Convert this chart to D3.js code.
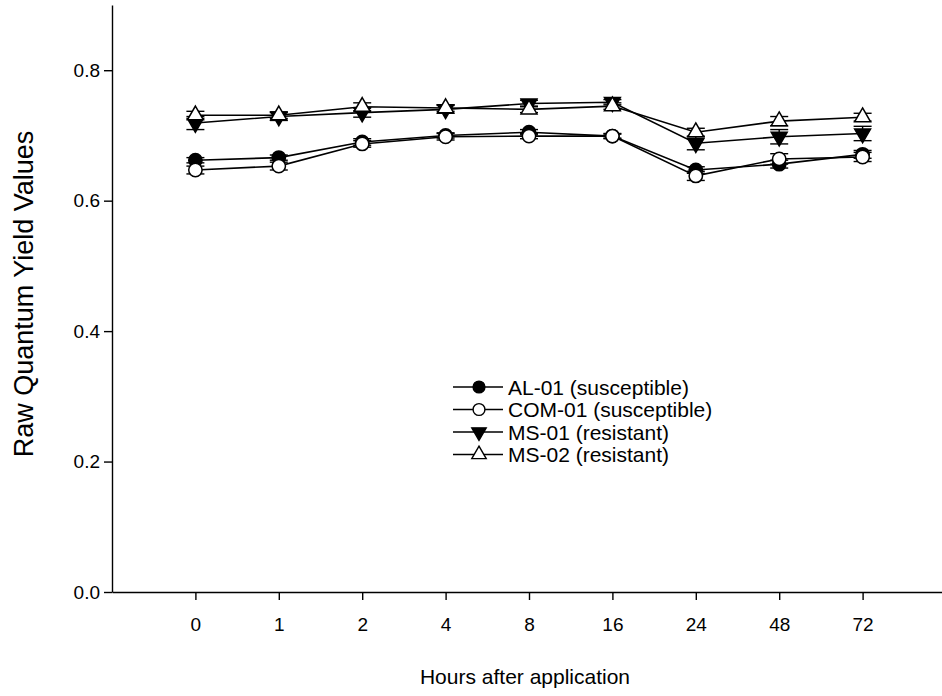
<!DOCTYPE html>
<html>
<head>
<meta charset="utf-8">
<style>
  body { margin: 0; background: #fff; }
  svg text { font-family: Arial, "Liberation Sans", sans-serif; fill: #000; }
</style>
</head>
<body>
<div id="target"></div>
<script src="https://cdn.jsdelivr.net/npm/d3@7.8.3/dist/d3.min.js"></script>
<script>
// hours after application, shown as evenly spaced categories
const hours = ["0", "1", "2", "4", "8", "16", "24", "48", "72"];
const yTicks = [0, 0.2, 0.4, 0.6, 0.8];

const al01 = [0.662, 0.666, 0.690, 0.700, 0.705, 0.699, 0.647, 0.656, 0.671];
const al01Err = [0.004, 0.004, 0.005, 0.004, 0.004, 0.003, 0.005, 0.006, 0.006];
const com01 = [0.647, 0.653, 0.687, 0.698, 0.699, 0.699, 0.638, 0.664, 0.667];
const com01Err = [0.006, 0.006, 0.005, 0.005, 0.004, 0.004, 0.007, 0.008, 0.007];
const ms01 = [0.719, 0.729, 0.735, 0.740, 0.749, 0.751, 0.688, 0.698, 0.703];
const ms01Err = [0.010, 0.006, 0.007, 0.006, 0.005, 0.004, 0.010, 0.011, 0.011];
const ms02 = [0.731, 0.731, 0.744, 0.742, 0.740, 0.745, 0.705, 0.722, 0.728];
const ms02Err = [0.006, 0.005, 0.006, 0.005, 0.005, 0.005, 0.006, 0.007, 0.006];

const series = [
  {name: "AL-01 (susceptible)", values: al01, err: al01Err, shape: "circle", fill: "#000"},
  {name: "COM-01 (susceptible)", values: com01, err: com01Err, shape: "circle", fill: "#fff"},
  {name: "MS-01 (resistant)", values: ms01, err: ms01Err, shape: "down", fill: "#000"},
  {name: "MS-02 (resistant)", values: ms02, err: ms02Err, shape: "up", fill: "#fff"}
];

const width = 942, height = 696;
const m = {left: 112, top: 5, bottom: 592, right: 946};

const svg = d3.select("#target").append("svg")
  .attr("width", width)
  .attr("height", height);

// index scale: one empty slot either side of the categories
const x = d3.scaleLinear().domain([-1, hours.length]).range([m.left, m.right]);
const y = d3.scaleLinear().domain([0, 0.9]).range([m.bottom, m.top]);

const xAxis = d3.axisBottom(x)
  .tickValues(d3.range(hours.length))
  .tickFormat(i => hours[i])
  .tickSizeInner(8).tickSizeOuter(0).tickPadding(14);

const yAxis = d3.axisLeft(y)
  .tickValues(yTicks)
  .tickFormat(d3.format(".1f"))
  .tickSizeInner(8).tickSizeOuter(0).tickPadding(4);

const gx = svg.append("g").attr("transform", `translate(0,${m.bottom})`).call(xAxis);
const gy = svg.append("g").attr("transform", `translate(${m.left},0)`).call(yAxis);
[gx, gy].forEach(g => {
  g.selectAll("path, line").attr("stroke", "#000").attr("stroke-width", 1.4);
  g.selectAll("text").attr("font-size", 19).attr("fill", "#000")
    .style("font-family", "Arial, 'Liberation Sans', sans-serif");
});
gx.selectAll("text").attr("dy", "0.9em");

svg.append("text")
  .attr("x", (m.left + m.right) / 2 - 4)
  .attr("y", 684)
  .attr("text-anchor", "middle")
  .attr("font-size", 21)
  .text("Hours after application");

svg.append("text")
  .attr("transform", `translate(33,294) rotate(-90)`)
  .attr("text-anchor", "middle")
  .attr("font-size", 27)
  .text("Raw Quantum Yield Values");

const symbolFor = (s, size) =>
  d3.symbol(s === "circle" ? d3.symbolCircle : d3.symbolTriangle, size)();
const rotFor = s => (s === "down" ? 180 : 0);

const line = d3.line()
  .x((d, i) => x(i))
  .y(d => y(d));

const plot = svg.append("g");

series.forEach(s => {
  const g = plot.append("g");
  g.append("path")
    .datum(s.values)
    .attr("fill", "none")
    .attr("stroke", "#000")
    .attr("stroke-width", 1.6)
    .attr("d", line);

  // error bars with caps
  const eb = g.selectAll(".eb").data(s.values).join("g");
  eb.append("line")
    .attr("x1", (d, i) => x(i)).attr("x2", (d, i) => x(i))
    .attr("y1", (d, i) => y(d - s.err[i])).attr("y2", (d, i) => y(d + s.err[i]))
    .attr("stroke", "#000").attr("stroke-width", 1.4);
  [-1, 1].forEach(sign => {
    eb.append("line")
      .attr("x1", (d, i) => x(i) - 9).attr("x2", (d, i) => x(i) + 9)
      .attr("y1", (d, i) => y(d + sign * s.err[i])).attr("y2", (d, i) => y(d + sign * s.err[i]))
      .attr("stroke", "#000").attr("stroke-width", 1.4);
  });

  g.selectAll(".pt").data(s.values).join("path")
    .attr("d", symbolFor(s.shape, s.shape === "circle" ? 140 : 110))
    .attr("transform", (d, i) => `translate(${x(i)},${y(d)}) rotate(${rotFor(s.shape)})`)
    .attr("fill", s.fill)
    .attr("stroke", "#000")
    .attr("stroke-width", 1.5);
});

// legend
const legend = svg.append("g").attr("transform", "translate(453,387)");
series.forEach((s, k) => {
  const row = legend.append("g").attr("transform", `translate(0,${k * 22.5})`);
  row.append("line").attr("x1", 0).attr("x2", 50).attr("y1", 0).attr("y2", 0)
    .attr("stroke", "#000").attr("stroke-width", 1.6);
  row.append("path")
    .attr("d", symbolFor(s.shape, s.shape === "circle" ? 110 : 90))
    .attr("transform", `translate(26,0) rotate(${rotFor(s.shape)})`)
    .attr("fill", s.fill).attr("stroke", "#000").attr("stroke-width", 1.4);
  row.append("text").attr("x", 55).attr("y", 0).attr("dy", "0.36em")
    .attr("font-size", 21).text(s.name);
});
</script>
</body>
</html>
